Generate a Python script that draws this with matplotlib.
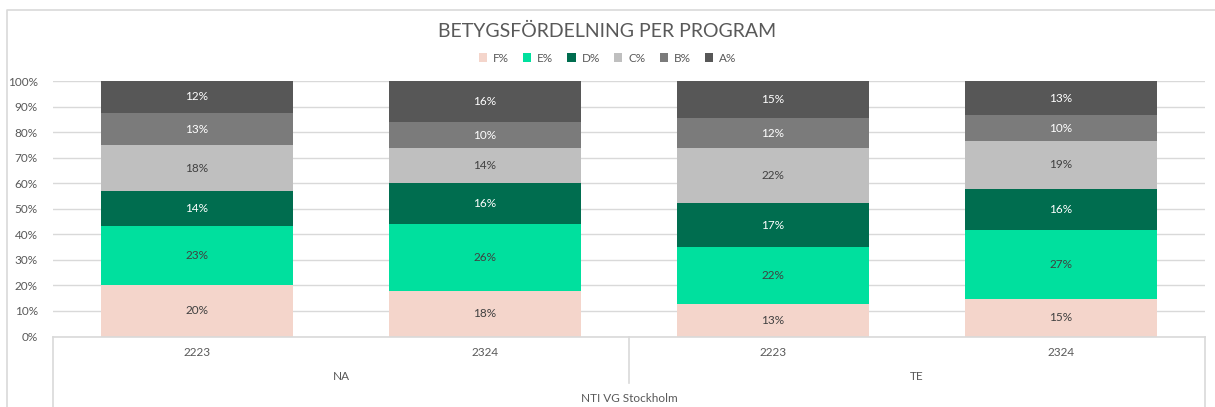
import matplotlib.pyplot as plt
from matplotlib.lines import Line2D
import matplotlib.transforms as mtransforms
import numpy as np

# --- Data ---
years = ["2223", "2324", "2223", "2324"]
programs = ["NA", "TE"]
school = "NTI VG Stockholm"
grades = ["F%", "E%", "D%", "C%", "B%", "A%"]

f_pct = [20.2, 17.9, 12.7, 14.6]
e_pct = [23.0, 26.2, 22.2, 26.9]
d_pct = [13.6, 16.0, 17.2, 16.3]
c_pct = [18.0, 13.8, 21.6, 18.8]
b_pct = [12.8, 9.9, 11.7, 10.0]
a_pct = [12.4, 16.2, 14.6, 13.4]

# --- Style ---
colors = ["#F4D5CB", "#00E09E", "#006D4F", "#BFBFBF", "#7B7B7B", "#575757"]
label_colors = ["#404040", "#404040", "white", "#404040", "white", "white"]
grid_c = "#D9D9D9"
text_c = "#595959"
plt.rcParams["font.family"] = ["Lato", "DejaVu Sans"]

fig = plt.figure(figsize=(12.15, 4.07), dpi=100)
W, H = 1215, 407
ax = fig.add_axes([53 / W, 1 - 336.5 / H, (1205 - 53) / W, (336.5 - 81) / H])

x = np.arange(len(years))
bottom = np.zeros(len(years))
series = [f_pct, e_pct, d_pct, c_pct, b_pct, a_pct]
for vals, name, col, lc in zip(series, grades, colors, label_colors):
    vals = np.array(vals)
    bars = ax.bar(x, vals, 0.664, bottom=bottom, color=col, label=name, zorder=2)
    for xi, v, b in zip(x, vals, bottom):
        ax.text(xi, b + v / 2, f"{v:.0f}%", ha="center", va="center",
                fontsize=8.5, color=lc, zorder=3)
    bottom += vals

ax.set_xlim(-0.5, len(years) - 0.5)
ax.set_ylim(0, 100)
ax.set_yticks(np.arange(0, 101, 10))
ax.set_yticklabels([f"{v}%" for v in range(0, 101, 10)])
ax.tick_params(axis="y", length=0, pad=11, labelsize=8.5, labelcolor=text_c)
ax.set_xticks([])
ax.grid(axis="y", color=grid_c, linewidth=1, zorder=0)
for s in ["top", "right", "left"]:
    ax.spines[s].set_visible(False)
ax.spines["bottom"].set_color(grid_c)
ax.spines["bottom"].set_linewidth(1.2)

# --- Multi-level category axis ---
tr = mtransforms.blended_transform_factory(ax.transData, fig.transFigure)
tf = fig.transFigure
for xi, yr in zip(x, years):
    ax.text(xi, 1 - 352 / H, yr, transform=tr, ha="center", va="center",
            fontsize=8.5, color=text_c)
for i, prog in enumerate(programs):
    ax.text(2 * i + 0.5, 1 - 376 / H, prog, transform=tr, ha="center",
            va="center", fontsize=8.5, color=text_c)
ax.text(1.5, 1 - 399 / H, school, transform=tr, ha="center", va="center",
        fontsize=8.5, color=text_c)

fig.add_artist(Line2D([1.5, 1.5], [1 - 336.5 / H, 1 - 383 / H], transform=tr,
                      color=grid_c, lw=1.2))
fig.add_artist(Line2D([53 / W, 53 / W], [1 - 336.5 / H, 0], transform=tf,
                      color=grid_c, lw=1.2))
fig.add_artist(Line2D([1205 / W, 1205 / W], [1 - 336.5 / H, 0], transform=tf,
                      color=grid_c, lw=1.2))

# --- Outer chart border ---
fig.add_artist(Line2D([6.5 / W, 6.5 / W, 1.0], [0, 1 - 9.5 / H, 1 - 9.5 / H],
                      transform=tf, color=grid_c, lw=1.2))

# --- Title & legend ---
fig.text(0.5, 1 - 31 / H, "BETYGSFÖRDELNING PER PROGRAM", ha="center",
         va="center", fontsize=14, color=text_c)
fig.legend(loc="center", bbox_to_anchor=(0.5, 1 - 58 / H), ncol=6,
           frameon=False, fontsize=8.5, handlelength=0.7, handleheight=0.7,
           handletextpad=0.5, columnspacing=1.2, labelcolor=text_c)

fig.savefig("out.png", dpi=100)
